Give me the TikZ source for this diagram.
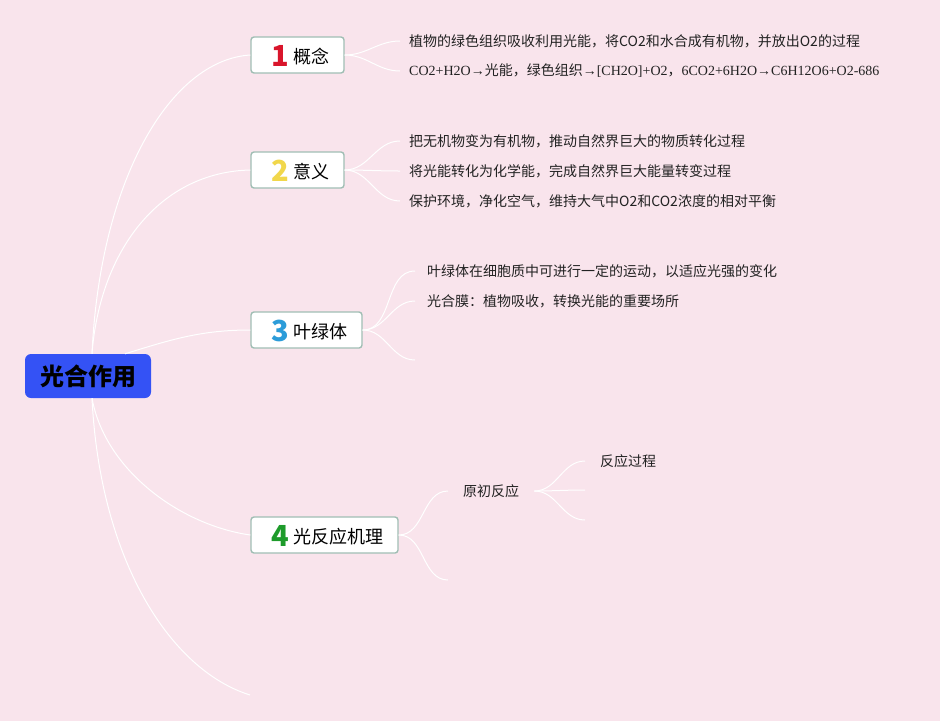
\documentclass[tikz,border=0pt]{standalone}
\usepackage{fontspec}
\usepackage{xcolor}
\usepackage{tikz}
\usetikzlibrary{positioning}
\setmainfont{Noto Sans CJK SC}
\newfontfamily\latinserif{Liberation Serif}
\definecolor{bgpink}{RGB}{249,228,236}
\definecolor{rootblue}{RGB}{52,82,245}
\definecolor{boxline}{RGB}{160,190,180}
\definecolor{numred}{RGB}{217,21,43}
\definecolor{numyellow}{RGB}{241,215,75}
\definecolor{numblue}{RGB}{44,156,217}
\definecolor{numgreen}{RGB}{30,155,43}
\definecolor{leaftext}{RGB}{34,34,34}
\newcommand{\topicnum}[2]{\hspace{6pt}\raisebox{-2.5pt}{\bfseries\fontsize{29}{29}\selectfont\color{#1}#2}\hspace{4pt}}

\begin{document}
\begin{tikzpicture}[x=1pt, y=-1pt, every node/.style={inner sep=2pt},
  root/.style={fill=rootblue, rounded corners=6pt, minimum width=126pt,
    minimum height=44pt, font=\bfseries\fontsize{24}{24}\selectfont},
  topic/.style={draw=boxline, line width=1.4pt, fill=white, rounded corners=3pt,
    minimum height=36pt, text height=19pt, text depth=2pt, font=\fontsize{18}{18}\selectfont},
  leaf/.style={anchor=west, inner xsep=9pt, text=leaftext,
    font=\fontsize{14}{16}\selectfont},
  branch/.style={draw=white, line width=1pt}]
% background and frame
\fill[bgpink] (0,0) rectangle (940,721);
\useasboundingbox (0,0) rectangle (940,721);

% root and main topics
\node[root] (R) at (88,376) {光合作用};
\node[topic, minimum width=93pt] (T1) at (297.5,55) {\topicnum{numred}{1}概念};
\node[topic, minimum width=93pt] (T2) at (297.5,170) {\topicnum{numyellow}{2}意义};
\node[topic, minimum width=111pt] (T3) at (306.5,330) {\topicnum{numblue}{3}叶绿体};
\node[topic, minimum width=147pt] (T4) at (324.5,535) {\topicnum{numgreen}{4}光反应机理};
\coordinate (T5) at (250,695);

\draw[branch] (R.north) ++(4,0) coordinate (Rn) .. controls (100,180) and (170,60) .. (T1.west);
\draw[branch] (Rn) .. controls (100,250) and (160,172) .. (T2.west);
\draw[branch] ([xshift=37pt]R.north) .. controls (170,340) and (200,330) .. (T3.west);
\draw[branch] (R.south) ++(4,0) coordinate (Rs) .. controls (105,470) and (180,525) .. (T4.west);
\draw[branch] (Rs) .. controls (100,560) and (170,670) .. (T5);

% concept
\node[leaf] (L11) at (400,41) {植物的绿色组织吸收利用光能，将CO2和水合成有机物，并放出O2的过程};
\node[leaf] (L12) at (400,71) {{\latinserif CO2+H2O→}光能，绿色组织{\latinserif →[CH2O]+O2}，{\latinserif 6CO2+6H2O→C6H12O6+O2-686}};
\foreach \n in {L11,L12}
  \draw[branch] (T1.east) to[out=0, in=180] (\n.west);

% meaning
\node[leaf] (L21) at (400,141) {把无机物变为有机物，推动自然界巨大的物质转化过程};
\node[leaf] (L22) at (400,171) {将光能转化为化学能，完成自然界巨大能量转变过程};
\node[leaf] (L23) at (400,201) {保护环境，净化空气，维持大气中O2和CO2浓度的相对平衡};
\foreach \n in {L21,L22,L23}
  \draw[branch] (T2.east) to[out=0, in=180] (\n.west);

% chloroplast
\node[leaf, inner xsep=12pt] (L31) at (415,271) {叶绿体在细胞质中可进行一定的运动，以适应光强的变化};
\node[leaf, inner xsep=12pt] (L32) at (415,301) {光合膜：植物吸收，转换光能的重要场所};
\coordinate (L33) at (415,360);
\foreach \n in {L31,L32}
  \draw[branch] (T3.east) to[out=0, in=180] (\n.west);
\draw[branch] (T3.east) to[out=0, in=180] (L33);

% light reaction
\node[leaf, inner xsep=15pt] (L41) at (448,491) {原初反应};
\coordinate (L42) at (448,580);
\draw[branch] (T4.east) to[out=0, in=180] (L41.west);
\draw[branch] (T4.east) to[out=0, in=180] (L42);
\node[leaf, inner xsep=15pt] (L411) at (585,461) {反应过程};
\coordinate (L412) at (585,490);
\coordinate (L413) at (585,520);
\draw[branch] (L41.east) to[out=0, in=180] (L411.west);
\draw[branch] (L41.east) to[out=0, in=180] (L412);
\draw[branch] (L41.east) to[out=0, in=180] (L413);
\end{tikzpicture}
\end{document}
